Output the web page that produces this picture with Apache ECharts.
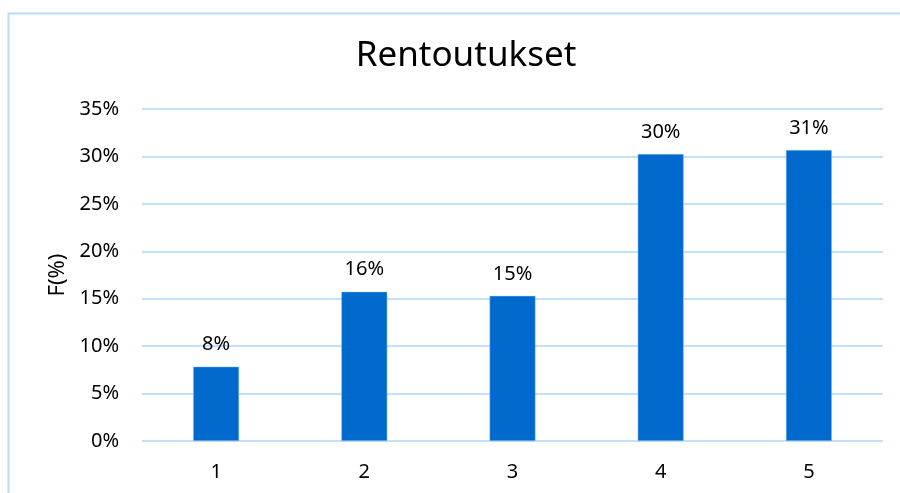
<!DOCTYPE html>
<html>
<head>
<meta charset="utf-8">
<script src="https://cdn.jsdelivr.net/npm/echarts@6/dist/echarts.min.js"></script>
<style>
  html, body { margin: 0; padding: 0; background: #fff; }
  #main { width: 900px; height: 493px; }
</style>
</head>
<body>
<div id="main"></div>
<script>
var chartDom = document.getElementById('main');
var myChart = echarts.init(chartDom);
var option;

var categories = ['1', '2', '3', '4', '5'];
var values = [7.84, 15.74, 15.3, 30.26, 30.68];
var labels = ['8%', '16%', '15%', '30%', '31%'];

var font = 'Noto Sans';

option = {
    backgroundColor: '#fff',
    animation: false,
    title: {
        text: 'Rentoutukset',
        left: 461,
        top: 34,
        textAlign: 'center',
        textStyle: {
            fontFamily: font,
            fontSize: 35,
            fontWeight: 'normal',
            color: '#000'
        }
    },
    graphic: [{
        type: 'polyline',
        shape: { points: [[8.5, 500], [8.5, 13.5], [905, 13.5]] },
        style: { stroke: '#bcdcfa', lineWidth: 2, fill: null },
        silent: true
    }],
    grid: {
        left: 142,
        right: 17,
        top: 109,
        bottom: 52
    },
    xAxis: {
        type: 'category',
        data: categories,
        axisLine: { show: false },
        axisTick: { show: false },
        axisLabel: {
            margin: 21,
            fontFamily: font,
            fontSize: 20,
            color: '#000'
        }
    },
    yAxis: {
        type: 'value',
        min: 0,
        max: 35,
        interval: 5,
        name: 'F(%)',
        nameLocation: 'middle',
        nameGap: 72,
        nameRotate: 90,
        nameTextStyle: {
            fontFamily: font,
            fontSize: 22,
            color: '#000'
        },
        axisLine: { show: false },
        axisTick: { show: false },
        axisLabel: {
            margin: 23,
            fontFamily: font,
            fontSize: 20,
            color: '#000',
            formatter: '{value}%'
        },
        splitLine: {
            lineStyle: { color: '#c3e0fb', width: 2 }
        }
    },
    series: [{
        type: 'bar',
        data: values,
        barWidth: '31%',
        itemStyle: {
            color: '#0069cd',
            borderColor: '#9cc8f0',
            borderWidth: 0.5
        },
        label: {
            show: true,
            position: 'top',
            distance: 12,
            fontFamily: font,
            fontSize: 20,
            color: '#000',
            formatter: function (p) { return labels[p.dataIndex]; }
        }
    }]
};

option && myChart.setOption(option);
</script>
</body>
</html>
